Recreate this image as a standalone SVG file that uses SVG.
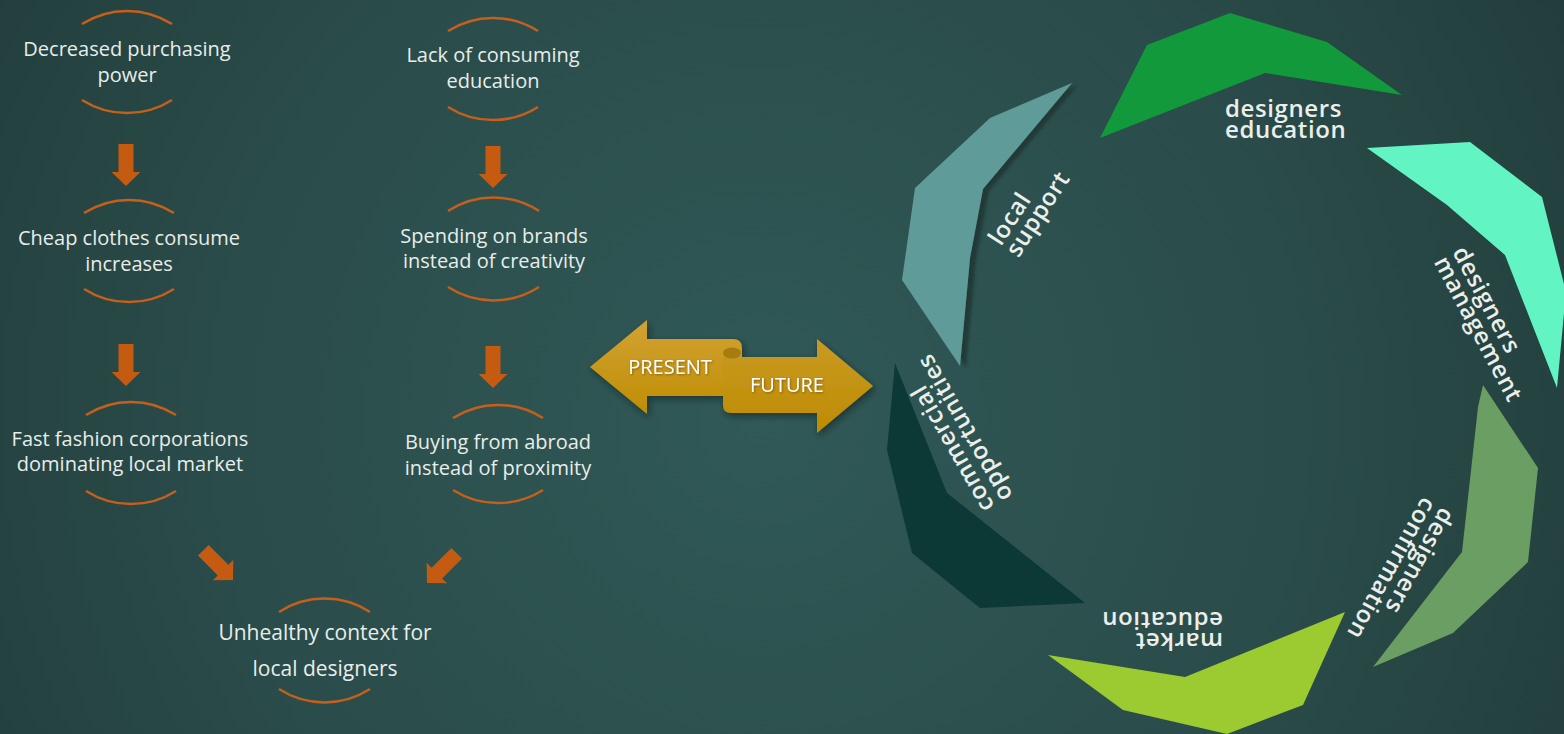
<svg xmlns="http://www.w3.org/2000/svg" width="1564" height="734" viewBox="0 0 1564 734">
  <defs>
    <radialGradient id="bg" cx="760" cy="420" r="900" gradientUnits="userSpaceOnUse">
      <stop offset="0" stop-color="#305957"/>
      <stop offset="0.6" stop-color="#2a4c4a"/>
      <stop offset="1" stop-color="#223e3c"/>
    </radialGradient>
    <linearGradient id="goldL" x1="0" y1="0" x2="0" y2="1">
      <stop offset="0" stop-color="#d2a234"/>
      <stop offset="1" stop-color="#bf8e02"/>
    </linearGradient>
    <linearGradient id="goldR" x1="0" y1="0" x2="0" y2="1">
      <stop offset="0" stop-color="#c99a24"/>
      <stop offset="1" stop-color="#bd8c00"/>
    </linearGradient>
    <filter id="shadow" x="-20%" y="-20%" width="140%" height="150%">
      <feDropShadow dx="2" dy="3" stdDeviation="3" flood-color="#0c2220" flood-opacity="0.6"/>
    </filter>
    <filter id="txtShadow" x="-10%" y="-30%" width="120%" height="160%">
      <feDropShadow dx="1" dy="1" stdDeviation="1" flood-color="#5a3e00" flood-opacity="0.6"/>
    </filter>
    <filter id="segShadow" x="-20%" y="-20%" width="140%" height="140%">
      <feDropShadow dx="6" dy="2" stdDeviation="1.5" flood-color="#1a3533" flood-opacity="0.85"/>
    </filter>
    <!-- block arrow, tip at the origin, pointing down -->
    <polygon id="dn" points="-7.5,-42 7.5,-42 7.5,-14 14.5,-14 0,0 -14.5,-14 -7.5,-14"/>
  </defs>
  <style>
    .lbl { font-family: "Open Sans", "Liberation Sans", sans-serif; font-size: 20px; fill: #e8edea; text-anchor: middle; }
    .arc { fill: none; stroke: #c55f1c; stroke-width: 2.5; }
    .arr { fill: #c55a11; }
    .seg { font-family: "Open Sans", "DejaVu Sans", sans-serif; font-size: 24px; font-weight: 600; letter-spacing: 0.6px; fill: #eceee9; }
    .tag { font-family: "Open Sans", "Liberation Sans", sans-serif; font-size: 20px; fill: #ffffff; text-anchor: middle; }
  </style>

  <rect width="1564" height="734" fill="url(#bg)"/>

  <!-- cause chain, left column -->
  <g id="n-purchasing">
    <path class="arc" d="M82,24 A84,84 0 0 1 172,24"/>
    <path class="arc" d="M82,100 A84,84 0 0 0 172,100"/>
    <text class="lbl" x="127" y="56">Decreased purchasing</text>
    <text class="lbl" x="127" y="82">power</text>
  </g>
  <g id="n-cheap">
    <path class="arc" d="M84,213 A84,84 0 0 1 174,213"/>
    <path class="arc" d="M84,289 A84,84 0 0 0 174,289"/>
    <text class="lbl" x="129" y="245">Cheap clothes consume</text>
    <text class="lbl" x="129" y="271">increases</text>
  </g>
  <g id="n-fastfashion">
    <path class="arc" d="M86,415 A84,84 0 0 1 176,415"/>
    <path class="arc" d="M86,491 A84,84 0 0 0 176,491"/>
    <text class="lbl" x="130" y="446">Fast fashion corporations</text>
    <text class="lbl" x="130" y="471">dominating local market</text>
  </g>

  <!-- cause chain, right column -->
  <g id="n-education">
    <path class="arc" d="M448,31 A84,84 0 0 1 538,31"/>
    <path class="arc" d="M448,107 A84,84 0 0 0 538,107"/>
    <text class="lbl" x="493" y="62">Lack of consuming</text>
    <text class="lbl" x="493" y="88">education</text>
  </g>
  <g id="n-brands">
    <path class="arc" d="M448,211 A84,84 0 0 1 539,211"/>
    <path class="arc" d="M448,287 A84,84 0 0 0 539,287"/>
    <text class="lbl" x="494" y="243">Spending on brands</text>
    <text class="lbl" x="494" y="268">instead of creativity</text>
  </g>
  <g id="n-abroad">
    <path class="arc" d="M453,418 A84,84 0 0 1 543,418"/>
    <path class="arc" d="M453,490 A84,84 0 0 0 543,490"/>
    <text class="lbl" x="498" y="449">Buying from abroad</text>
    <text class="lbl" x="498" y="475">instead of proximity</text>
  </g>

  <!-- outcome -->
  <g id="n-unhealthy">
    <path class="arc" d="M279,612 A84,84 0 0 1 370,612"/>
    <path class="arc" d="M279,689 A84,84 0 0 0 370,689"/>
    <text class="lbl" x="325" y="640" style="font-size:21px">Unhealthy context for</text>
    <text class="lbl" x="325" y="676" style="font-size:21px">local designers</text>
  </g>

  <!-- connectors -->
  <g id="connectors">
    <use href="#dn" class="arr" transform="translate(126,186)"/>
    <use href="#dn" class="arr" transform="translate(126,386)"/>
    <use href="#dn" class="arr" transform="translate(493,188)"/>
    <use href="#dn" class="arr" transform="translate(493,388)"/>
    <use href="#dn" class="arr" transform="translate(233,580) rotate(-45)"/>
    <use href="#dn" class="arr" transform="translate(427,583) rotate(45)"/>
  </g>

  <!-- present / future ribbon arrow -->
  <g id="present-future" filter="url(#shadow)">
    <path fill="url(#goldL)" d="M590,367 L647,320 L647,339 L733,339 Q742,339 742,348 L742,396 L647,396 L647,414 Z"/>
    <path fill="url(#goldR)" d="M723,357 L817,357 L817,339 L873,386 L817,433 L817,413 L731,413 Q723,413 723,405 Z"/>
    <ellipse cx="732" cy="353" rx="9" ry="5.5" fill="#a57b10"/>
  </g>
  <g id="present-future-text" filter="url(#txtShadow)">
    <text class="tag" x="670" y="374">PRESENT</text>
    <text class="tag" x="787" y="392">FUTURE</text>
  </g>

  <!-- cycle segments -->
  <g id="seg-local-support">
    <polygon fill="#5f9b98" filter="url(#segShadow)" points="1072,83 990,118 915,188 902,280 960,366 970,258 983,189"/>
    <g class="seg" transform="translate(1001,247) rotate(-57)">
      <text x="0" y="0">local</text>
      <text x="0" y="21">support</text>
    </g>
  </g>
  <g id="seg-designers-education">
    <polygon fill="#12993b" points="1100,138 1147,45 1230,13 1327,42 1402,95 1265,73"/>
    <g class="seg">
      <text x="1225" y="117">designers</text>
      <text x="1225" y="138">education</text>
    </g>
  </g>
  <g id="seg-designers-management">
    <polygon fill="#63f4c3" points="1367,148 1470,142 1542,197 1566,292 1557,388 1505,255 1447,205"/>
    <g class="seg" transform="translate(1452,252) rotate(62)">
      <text x="0" y="0">designers</text>
      <text x="0" y="21">management</text>
    </g>
  </g>
  <g id="seg-designers-confirmation">
    <polygon fill="#6a9e62" points="1483,385 1538,468 1528,562 1453,633 1373,667 1448,570 1462,552 1478,407"/>
    <g class="seg" transform="translate(1441,506) rotate(119)">
      <text x="0" y="0">designers</text>
      <text x="0" y="21">confirmation</text>
    </g>
  </g>
  <g id="seg-market-education">
    <polygon fill="#9bca31" points="1048,655 1123,710 1227,734 1303,705 1345,612 1185,677"/>
    <g class="seg" transform="translate(1223,633) rotate(180)">
      <text x="0" y="0">market</text>
      <text x="0" y="21">education</text>
    </g>
  </g>
  <g id="seg-commercial">
    <polygon fill="#0c3836" points="895,363 887,450 912,553 980,608 1085,603 947,493"/>
    <g class="seg" transform="translate(995,506) rotate(-120)">
      <text x="0" y="0">commercial</text>
      <text x="0" y="21">opportunities</text>
    </g>
  </g>
</svg>
